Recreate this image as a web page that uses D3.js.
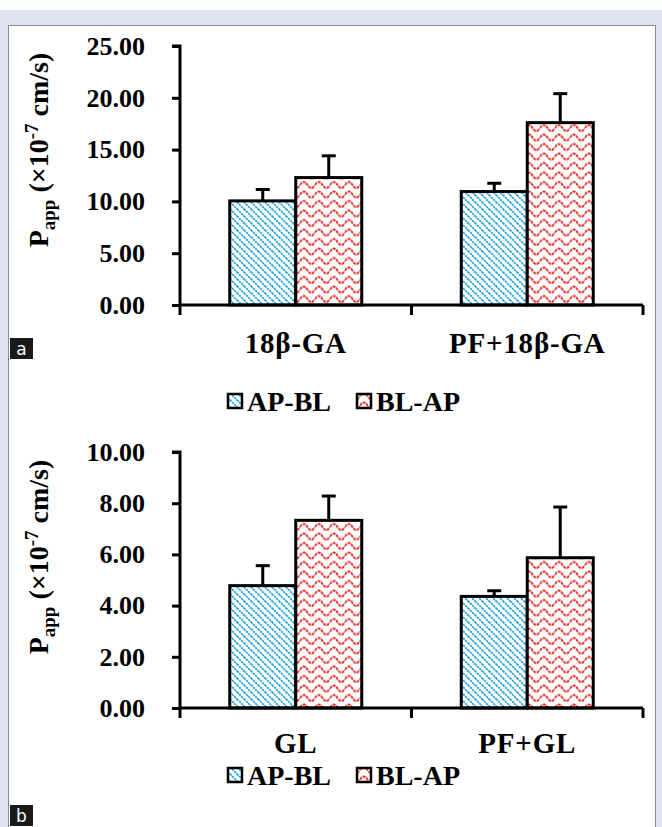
<!DOCTYPE html>
<html>
<head>
<meta charset="utf-8">
<script src="https://cdn.jsdelivr.net/npm/d3@7"></script>
<style>
  body { margin: 0; background: #fff; }
  svg { display: block; }
</style>
</head>
<body>
<script>
// data
var seriesNames = ["AP-BL", "BL-AP"];

var catsA = ["18β-GA", "PF+18β-GA"];
var meanA_apbl = [10.05, 10.95];
var meanA_blap = [12.3, 17.6];
var errA_apbl = [1.1, 0.8];
var errA_blap = [2.1, 2.8];
var ticksA = [0, 5, 10, 15, 20, 25];

var catsB = ["GL", "PF+GL"];
var meanB_apbl = [4.78, 4.36];
var meanB_blap = [7.33, 5.87];
var errB_apbl = [0.78, 0.22];
var errB_blap = [0.95, 1.98];
var ticksB = [0, 2, 4, 6, 8, 10];

var W = 662, H = 827;
var serif = "'Liberation Serif', 'Times New Roman', serif";

var svg = d3.select("body").append("svg")
  .attr("width", W).attr("height", H);

// patterns
var defs = svg.append("defs");
var pBlue = defs.append("pattern")
  .attr("id", "hatchBlue")
  .attr("patternUnits", "userSpaceOnUse")
  .attr("width", 7).attr("height", 7);
pBlue.append("rect").attr("width", 7).attr("height", 7).attr("fill", "#fff");
pBlue.append("path")
  .attr("d", "M-1,-1 L8,8 M-1,6 L1,8 M6,-1 L8,1")
  .attr("stroke", "#1a9fe0").attr("stroke-width", 1.7)
  .attr("stroke-dasharray", "2.2,0.8");

var pRed = defs.append("pattern")
  .attr("id", "waveRed")
  .attr("patternUnits", "userSpaceOnUse")
  .attr("width", 15).attr("height", 9.5);
pRed.append("rect").attr("width", 15).attr("height", 9.5).attr("fill", "#fff");
pRed.append("path")
  .attr("d", "M0,4.5 C2.5,0.5 5,0.5 7.5,4.5 C10,8.5 12.5,8.5 15,4.5")
  .attr("fill", "none")
  .attr("stroke", "#e8322c").attr("stroke-width", 2)
  .attr("stroke-dasharray", "3,0.8");

var fills = ["url(#hatchBlue)", "url(#waveRed)"];

// backdrop
svg.append("rect").attr("x", 0).attr("y", 10).attr("width", W).attr("height", H - 10)
  .attr("fill", "#dfe3f1");
svg.append("rect").attr("x", 8.5).attr("y", 25.5).attr("width", 647).attr("height", H)
  .attr("fill", "#fff").attr("stroke", "#8a8a8a").attr("stroke-width", 1);

function drawPanel(opt) {
  var g = svg.append("g");

  var x = d3.scaleBand()
    .domain(opt.cats)
    .range([180, 643]);

  var y = d3.scaleLinear()
    .domain([0, opt.max])
    .range([opt.bottom, opt.top]);

  var sub = d3.scaleBand()
    .domain(seriesNames)
    .range([0, 132]);

  var rows = [];
  opt.cats.forEach(function(c, i) {
    rows.push({ cat: c, s: 0, v: opt.apbl[i], e: opt.eapbl[i] });
    rows.push({ cat: c, s: 1, v: opt.blap[i], e: opt.eblap[i] });
  });

  function bx(d) {
    return x(d.cat) + x.bandwidth() / 2 - 66 + sub(seriesNames[d.s]);
  }

  // error bars (upward only), drawn first so the bar outline covers the base
  var eb = g.selectAll(".err").data(rows).enter().append("g");
  eb.append("line")
    .attr("x1", function(d) { return bx(d) + 33; })
    .attr("x2", function(d) { return bx(d) + 33; })
    .attr("y1", function(d) { return y(d.v); })
    .attr("y2", function(d) { return y(d.v + d.e); })
    .attr("stroke", "#000").attr("stroke-width", 3);
  eb.append("line")
    .attr("x1", function(d) { return bx(d) + 26; })
    .attr("x2", function(d) { return bx(d) + 40; })
    .attr("y1", function(d) { return y(d.v + d.e); })
    .attr("y2", function(d) { return y(d.v + d.e); })
    .attr("stroke", "#000").attr("stroke-width", 3);

  g.selectAll(".bar").data(rows).enter().append("rect")
    .attr("x", bx)
    .attr("y", function(d) { return y(d.v); })
    .attr("width", 66)
    .attr("height", function(d) { return y(0) - y(d.v); })
    .attr("fill", function(d) { return fills[d.s]; })
    .attr("stroke", "#000").attr("stroke-width", 3);

  // y axis
  var yAxis = d3.axisLeft(y)
    .tickValues(opt.ticks)
    .tickSize(8)
    .tickPadding(27)
    .tickFormat(d3.format(".2f"));
  var ya = g.append("g")
    .attr("transform", "translate(180,0)")
    .call(yAxis);
  ya.select(".domain").attr("stroke-width", 3).attr("d", "M-8," + y(opt.max) + "H0V" + y(0));
  ya.selectAll(".tick line").attr("stroke-width", 3);
  ya.selectAll("text")
    .attr("font-family", serif).attr("font-weight", "bold")
    .attr("font-size", 26).attr("fill", "#000");

  // x axis: ticks sit between the categories
  var xa = g.append("g").attr("transform", "translate(0," + y(0) + ")");
  xa.append("line").attr("x1", 180).attr("x2", 643)
    .attr("stroke", "#000").attr("stroke-width", 3);
  var edges = [180].concat(opt.cats.map(function(c) { return x(c) + x.bandwidth(); }));
  xa.selectAll(".xt").data(edges).enter().append("line")
    .attr("x1", function(d) { return d; }).attr("x2", function(d) { return d; })
    .attr("y1", 0).attr("y2", 10)
    .attr("stroke", "#000").attr("stroke-width", 3);
  xa.selectAll(".xl").data(opt.cats).enter().append("text")
    .attr("x", function(d) { return x(d) + x.bandwidth() / 2; })
    .attr("y", opt.catY - y(0))
    .attr("text-anchor", "middle")
    .attr("font-family", serif).attr("font-weight", "bold").attr("font-size", 29)
    .attr("letter-spacing", 0.8)
    .text(function(d) { return d; });

  // y label
  var lab = g.append("text")
    .attr("transform", "translate(48," + opt.labY + ") rotate(-90)")
    .attr("text-anchor", "middle")
    .attr("font-family", serif).attr("font-weight", "bold").attr("font-size", 28);
  lab.append("tspan").text("P");
  lab.append("tspan").attr("font-size", 19).attr("dy", 7).text("app");
  lab.append("tspan").attr("dy", -7).text(" (×10");
  lab.append("tspan").attr("font-size", 19).attr("dy", -10).text("-7");
  lab.append("tspan").attr("dy", 10).text(" cm/s)");

  // legend
  var lg = g.append("g").attr("transform", "translate(0," + opt.legY + ")");
  var lx = [228, 357];
  seriesNames.forEach(function(s, i) {
    lg.append("rect").attr("x", lx[i]).attr("y", -7).attr("width", 14).attr("height", 14)
      .attr("fill", fills[i]).attr("stroke", "#000").attr("stroke-width", 2.5);
    lg.append("text").attr("x", lx[i] + 19).attr("y", 10)
      .attr("font-family", serif).attr("font-weight", "bold").attr("font-size", 28)
      .text(s);
  });

  // panel letter
  svg.append("rect").attr("x", 10).attr("y", opt.tagY).attr("width", 23).attr("height", 21)
    .attr("fill", "#1a1a1a");
  svg.append("text").attr("x", 21.5).attr("y", opt.tagY + 17)
    .attr("text-anchor", "middle").attr("fill", "#fff")
    .attr("font-family", "'DejaVu Sans', sans-serif").attr("font-size", 17)
    .text(opt.tag);
}

drawPanel({ cats: catsA, apbl: meanA_apbl, blap: meanA_blap, eapbl: errA_apbl, eblap: errA_blap,
  ticks: ticksA, max: 25, top: 46, bottom: 305, catY: 353, labY: 150, legY: 401, tagY: 338, tag: "a" });
drawPanel({ cats: catsB, apbl: meanB_apbl, blap: meanB_blap, eapbl: errB_apbl, eblap: errB_blap,
  ticks: ticksB, max: 10, top: 452, bottom: 708, catY: 753, labY: 557, legY: 775, tagY: 805, tag: "b" });
</script>
</body>
</html>
